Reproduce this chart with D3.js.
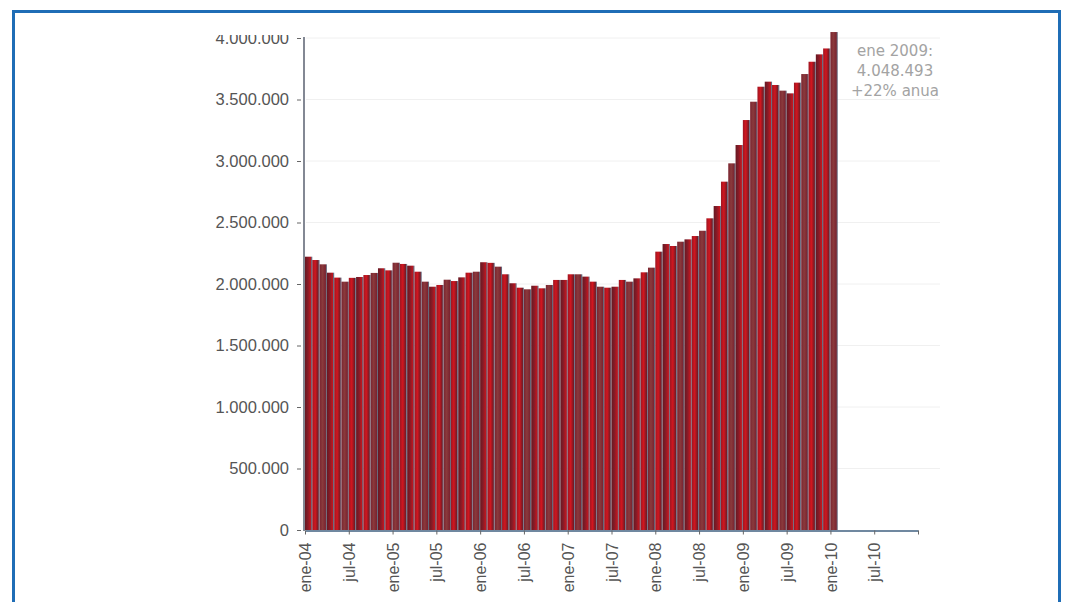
<!DOCTYPE html>
<html>
<head>
<meta charset="utf-8">
<script src="https://cdn.jsdelivr.net/npm/d3@7"></script>
<style>
    body { margin: 0; background: #fff; }
    svg { display: block; font-family: 'DejaVu Sans', Verdana, sans-serif; }
    .axis text { fill: #555; }
</style>
</head>
<body>
<div id="chart"></div>
<script>
// Paro registrado, mensual ene-04 .. ene-10 (miles)
const months = d3.range(73);
const values2004 = [2222, 2195, 2160, 2092, 2052, 2019, 2050, 2057, 2073, 2090, 2128, 2111];
const values2005 = [2173, 2163, 2149, 2100, 2019, 1978, 1992, 2035, 2024, 2054, 2092, 2100];
const values2006 = [2177, 2172, 2141, 2079, 2006, 1970, 1957, 1986, 1965, 1992, 2033, 2033];
const values2007 = [2079, 2079, 2060, 2019, 1978, 1970, 1978, 2033, 2019, 2046, 2095, 2133];
const values2008 = [2263, 2325, 2309, 2344, 2363, 2390, 2433, 2534, 2634, 2832, 2981, 3130];
const values2009 = [3333, 3482, 3604, 3645, 3618, 3572, 3550, 3637, 3707, 3807, 3867, 3915];
const values2010 = [4048.493];
const yTicks = [0, 500000, 1000000, 1500000, 2000000, 2500000, 3000000, 3500000, 4000000];
const xTickLabels = ['ene-04', 'jul-04', 'ene-05', 'jul-05', 'ene-06', 'jul-06', 'ene-07',
    'jul-07', 'ene-08', 'jul-08', 'ene-09', 'jul-09', 'ene-10', 'jul-10', ''];
const noteLines = ['ene 2009:', '4.048.493', '+22% anua'];

class BarChart {
    constructor(_config, _data) {
        this.config = {
            parentElement: _config.parentElement,
            containerWidth: _config.containerWidth || 1069,
            containerHeight: _config.containerHeight || 602
        };
        this.data = _data;
        this.initVis();
    }

    initVis() {
        let vis = this;

        vis.svg = d3.select(vis.config.parentElement)
            .append('svg')
            .attr('width', vis.config.containerWidth)
            .attr('height', vis.config.containerHeight);

        // blue frame
        vis.svg.append('rect')
            .attr('x', 13.5).attr('y', 11.5)
            .attr('width', 1046).attr('height', 620)
            .attr('fill', 'none')
            .attr('stroke', '#1f6db6')
            .attr('stroke-width', 3);

        vis.xScale = d3.scaleLinear()
            .domain([0, 84])
            .range([305, 918]);

        vis.yScale = d3.scaleLinear()
            .domain([0, 4000000])
            .range([530, 38]);

        const locale = d3.formatLocale({ decimal: ',', thousands: '.', grouping: [3], currency: ['', '€'] });
        vis.fmt = locale.format(',');

        // gradients for the striped bar look
        const defs = vis.svg.append('defs');
        const grads = [
            { id: 'gA', stops: ['#661822', '#861b27', '#c3161f', '#6c6c80'] },
            { id: 'gB', stops: ['#7a2430', '#8a3a3c', '#7c2430', '#66687a'] },
            { id: 'gC', stops: ['#9c1622', '#d2161f', '#761a24', '#74768a'] }
        ];
        grads.forEach(g => {
            const lg = defs.append('linearGradient').attr('id', g.id)
                .attr('x1', '0%').attr('x2', '100%').attr('y1', '0%').attr('y2', '0%');
            g.stops.forEach((c, i) => {
                lg.append('stop')
                    .attr('offset', (i === 3 ? 90 : i * 40) + '%')
                    .attr('stop-color', c);
            });
            lg.append('stop').attr('offset', '100%').attr('stop-color', g.stops[3]);
        });

        vis.chart = vis.svg.append('g');
    }

    renderVis() {
        let vis = this;

        // faint grid lines
        vis.chart.append('g')
            .selectAll('line')
            .data(yTicks.slice(1))
            .join('line')
            .attr('x1', 306).attr('x2', 940)
            .attr('y1', d => vis.yScale(d)).attr('y2', d => vis.yScale(d))
            .attr('stroke', '#f0f0f0');

        const gradIds = ['gA', 'gC', 'gB', 'gA', 'gC', 'gB', 'gC'];
        vis.chart.append('g')
            .selectAll('rect')
            .data(vis.data)
            .join('rect')
            .attr('x', d => vis.xScale(d.m))
            .attr('width', d => vis.xScale(d.m + 1) - vis.xScale(d.m))
            .attr('y', d => vis.yScale(d.v))
            .attr('height', d => vis.yScale(0) - vis.yScale(d.v))
            .attr('fill', d => `url(#${gradIds[d.m % gradIds.length]})`);

        // y axis
        const yAxis = d3.axisLeft(vis.yScale)
            .tickValues(yTicks)
            .tickFormat(vis.fmt)
            .tickSize(4)
            .tickPadding(8);
        const yAxisG = vis.svg.append('g')
            .attr('class', 'axis y-axis')
            .attr('transform', 'translate(301,0)')
            .call(yAxis);
        yAxisG.select('.domain').remove();
        yAxisG.selectAll('.tick line').attr('stroke', '#666');
        yAxisG.selectAll('text').style('font-size', '16.5px');

        vis.svg.append('line')
            .attr('x1', 304).attr('x2', 304)
            .attr('y1', 37).attr('y2', 531)
            .attr('stroke', '#5a6070')
            .attr('stroke-width', 1.5);

        // x axis
        const xAxis = d3.axisBottom(vis.xScale)
            .tickValues(d3.range(0, 85, 6))
            .tickFormat((d, i) => xTickLabels[i])
            .tickSize(4)
            .tickSizeOuter(0)
            .tickPadding(6);
        const xAxisG = vis.svg.append('g')
            .attr('class', 'axis x-axis')
            .attr('transform', 'translate(0,530.5)')
            .call(xAxis);
        xAxisG.select('.domain').attr('stroke', '#7088a0').attr('stroke-width', 2);
        xAxisG.selectAll('.tick line').attr('stroke', '#666');
        xAxisG.selectAll('text')
            .style('font-size', '16px')
            .style('text-anchor', 'end')
            .attr('transform', 'rotate(-90)')
            .attr('x', -12)
            .attr('y', 0)
            .attr('dy', '0.35em');

        // cut off the top of the first label like the source image
        vis.svg.append('rect')
            .attr('x', 150).attr('y', 13)
            .attr('width', 152).attr('height', 22)
            .attr('fill', '#fff');

        // annotation
        vis.svg.append('g')
            .selectAll('text')
            .data(noteLines)
            .join('text')
            .attr('x', 895)
            .attr('y', (d, i) => 56 + i * 20)
            .attr('text-anchor', 'middle')
            .style('font-size', '15px')
            .style('fill', '#a3a3a3')
            .text(d => d);
    }
}

const allValues = [].concat(values2004, values2005, values2006, values2007, values2008, values2009, values2010);
const data = months.map(m => ({ m: m, v: allValues[m] * 1000 }));

const chart = new BarChart({ parentElement: '#chart' }, data);
chart.renderVis();
</script>
</body>
</html>
